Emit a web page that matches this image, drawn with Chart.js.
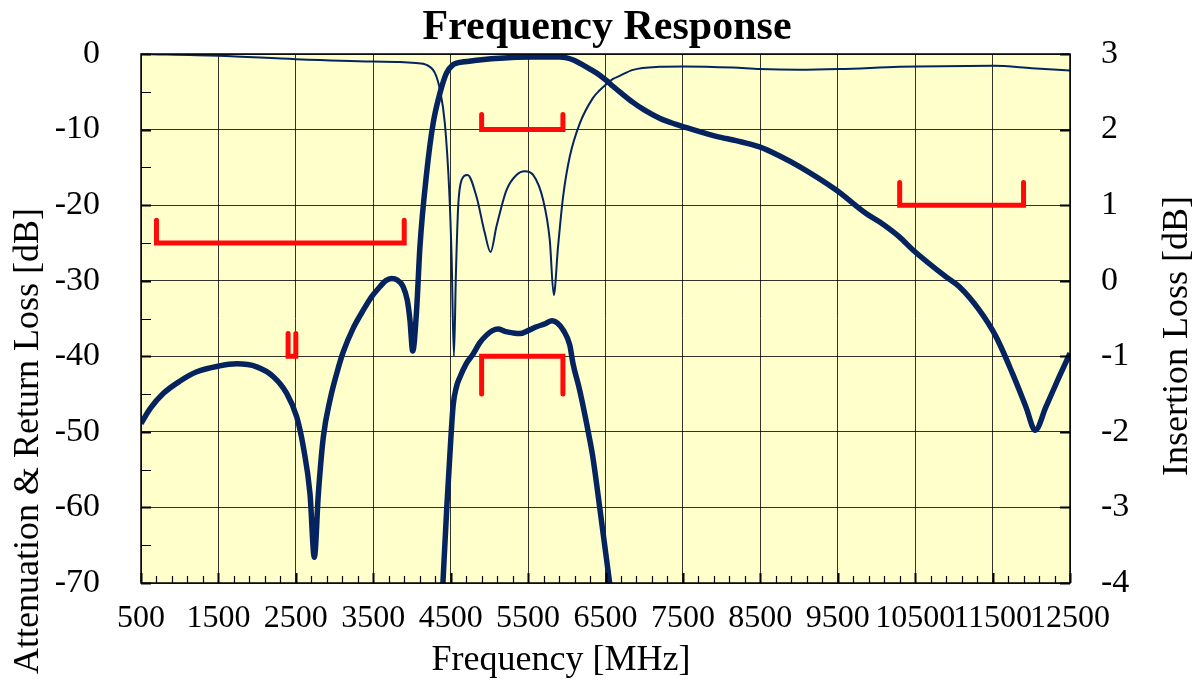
<!DOCTYPE html>
<html>
<head>
<meta charset="utf-8">
<title>Frequency Response</title>
<script src="https://cdn.jsdelivr.net/npm/chart.js@4.4.1/dist/chart.umd.min.js"></script>
<style>
  html, body { margin: 0; padding: 0; background: #ffffff; }
  canvas { display: block; }
</style>
</head>
<body>
<canvas id="freqChart" width="1199" height="681"></canvas>
<script>
/* =====================================
   Data
===================================== */
const chartTitle = "Frequency Response";
const xTitle = "Frequency [MHz]";
const yTitle = "Attenuation & Return Loss [dB]";
const y2Title = "Insertion Loss [dB]";

const xTicks = [500, 1500, 2500, 3500, 4500, 5500, 6500, 7500, 8500, 9500, 10500, 11500, 12500];
const yTicks = [0, -10, -20, -30, -40, -50, -60, -70];
const y2Ticks = [3, 2, 1, 0, -1, -2, -3, -4];

// attenuation (thick curve, left axis)
const attFreq = [500, 620, 790, 1000, 1221, 1500, 1737, 1995, 2210, 2382, 2511, 2597, 2683, 2739, 2791,
  2855, 2941, 3030, 3113, 3240, 3371, 3480, 3586, 3660, 3737, 3810, 3887, 3940, 3974, 4010, 4060, 4103,
  4189, 4274, 4361, 4447, 4532, 4600, 4705, 4900, 5135, 5565, 5909, 6000, 6100, 6200, 6300, 6425, 6511,
  6600, 6683, 6855, 7000, 7199, 7350, 7500, 7931, 8200, 8490, 8750, 9006, 9480, 9866, 10038, 10296, 10468, 10899,
  11071, 11329, 11544, 11758, 11931, 12051, 12189, 12361, 12500];
const attDb = [-48.9, -46.9, -44.9, -43.3, -42.05, -41.3, -41.0, -41.4, -42.7, -44.9, -48.0, -52.0, -58.2, -66.6, -58.2,
  -50.7, -45.8, -42.2, -39.4, -36.3, -33.9, -32.1, -30.8, -30.0, -29.7, -29.9, -30.8, -32.6, -35.2, -39.3, -33.9, -25.5,
  -15.8, -9.15, -5.2, -2.5, -1.4, -1.15, -1.0, -0.75, -0.55, -0.41, -0.4, -0.52, -0.85, -1.4, -2.0, -2.8, -3.5,
  -4.3, -5.0, -6.4, -7.4, -8.5, -9.1, -9.6, -10.9, -11.5, -12.3, -13.5, -14.9, -18.0, -21.1, -22.2, -24.2, -25.9, -29.5,
  -30.8, -33.9, -37.4, -42.3, -46.7, -49.8, -46.7, -42.7, -39.6];

// return loss (thin curve, left axis)
const rlFreq = [500, 1500, 2500, 3500, 3845, 4050, 4189, 4296, 4361, 4425, 4481, 4512, 4542, 4568, 4597,
  4640, 4718, 4834, 4941, 5015, 5092, 5221, 5350, 5457, 5565, 5694, 5780, 5832, 5887, 5952, 6038, 6167,
  6339, 6425, 6511, 6597, 6683, 6855, 7199, 7500, 8145, 8490, 9006, 9523, 10296, 10523, 11510, 12005, 12500];
const rlDb = [0, -0.24, -0.68, -1.0, -1.05, -1.2, -1.45, -2.5, -4.7, -9.2, -18, -26.8, -40, -29, -20.2,
  -16.7, -16.0, -18.9, -23.7, -26.2, -22.8, -18.0, -16.0, -15.5, -16.0, -19.3, -24.6, -31.9, -25.5, -18.9, -13.6, -9.2,
  -5.8, -4.8, -4.0, -3.3, -2.9, -2.1, -1.7, -1.65, -1.8, -2.0, -2.1, -2.0, -1.7, -1.65, -1.56, -1.87, -2.2];

// insertion loss zoom (thick curve, right axis)
const ilFreq = [4395, 4450, 4490, 4532, 4576, 4618, 4700, 4790, 4877, 4963, 5040, 5113, 5200, 5300, 5393,
  5500, 5608, 5720, 5810, 5880, 5952, 6038, 6081, 6167, 6296, 6339, 6425, 6560];
const ilDb = [-4.1, -3.0, -2.3, -1.65, -1.4, -1.28, -1.1, -0.97, -0.82, -0.72, -0.66, -0.64, -0.67, -0.69, -0.70,
  -0.66, -0.61, -0.57, -0.53, -0.56, -0.65, -0.85, -1.1, -1.45, -2.1, -2.35, -3.0, -4.05];

// spec masks [MHz, dB]
const maskLowStop = [[700, -22], [700, -25], [3900, -25], [3900, -22]];
const maskNotch = [[2400, -37], [2400, -40], [2500, -40], [2500, -37]];
const maskReturnLoss = [[4900, -8], [4900, -10], [5950, -10], [5950, -8]];
const maskHighStop = [[10300, -17], [10300, -20], [11900, -20], [11900, -17]];
const maskInsertion = [[4900, -1.5], [4900, -1], [5950, -1], [5950, -1.5]]; // right axis

/* =====================================
   Styles
===================================== */
const NAVY = "#05235e";
const RED = "#ff0a0a";
const SERIF = "'Liberation Serif', 'Times New Roman', serif";

function toPoints(xs, ys) {
  return xs.map((x, i) => ({ x: x, y: ys[i] }));
}

function maskDataset(pairs, axis) {
  return {
    data: pairs.map(p => ({ x: p[0], y: p[1] })),
    yAxisID: axis,
    borderColor: RED,
    borderWidth: 5,
    borderCapStyle: "round",
    borderJoinStyle: "miter",
    pointRadius: 0,
    tension: 0,
    order: 0
  };
}

// fixed axis width; drop the tick padding from the vertical overflow
function fixVertical(width) {
  return s => {
    s.width = width;
    s.paddingTop = 20;
    s.paddingBottom = 20;
  };
}

/* =====================================
   Plot area: background, frame, ticks, titles
===================================== */
const plotFrame = {
  id: "plotFrame",
  beforeDraw(chart) {
    const { ctx, chartArea: a } = chart;
    ctx.save();
    ctx.fillStyle = "#ffffcc";
    ctx.fillRect(a.left, a.top, a.right - a.left, a.bottom - a.top);
    ctx.restore();
  },
  afterDatasetsDraw(chart) {
    const { ctx, chartArea: a } = chart;
    const xs = chart.scales.x;
    const ys = chart.scales.y;
    ctx.save();
    ctx.strokeStyle = "#000";

    // minor ticks along the bottom (every 200 MHz)
    ctx.lineWidth = 1.2;
    ctx.beginPath();
    for (let f = 700; f < 12500; f += 200) {
      if ((f - 500) % 1000 === 0) continue;
      const px = Math.round(xs.getPixelForValue(f)) + 0.5;
      ctx.moveTo(px, a.bottom);
      ctx.lineTo(px, a.bottom - 7);
    }
    ctx.stroke();

    // major ticks along the bottom
    ctx.lineWidth = 2;
    ctx.beginPath();
    xTicks.forEach(f => {
      const px = Math.round(xs.getPixelForValue(f)) + 0.5;
      ctx.moveTo(px, a.bottom);
      ctx.lineTo(px, a.bottom - 10);
    });
    ctx.stroke();

    // left ticks: minor every 5 dB, major every 10 dB
    ctx.lineWidth = 1.2;
    ctx.beginPath();
    for (let v = -5; v > -70; v -= 10) {
      const py = Math.round(ys.getPixelForValue(v)) + 0.5;
      ctx.moveTo(a.left, py);
      ctx.lineTo(a.left + 10, py);
    }
    ctx.stroke();
    ctx.lineWidth = 2;
    ctx.beginPath();
    yTicks.forEach(v => {
      const py = Math.round(ys.getPixelForValue(v)) + 0.5;
      ctx.moveTo(a.left, py);
      ctx.lineTo(a.left + 10, py);
      ctx.moveTo(a.right, py);
      ctx.lineTo(a.right - 10, py);
    });
    ctx.stroke();

    // frame
    ctx.lineWidth = 1.5;
    ctx.strokeRect(a.left, a.top, a.right - a.left, a.bottom - a.top);
    ctx.restore();
  },
  afterDraw(chart) {
    const ctx = chart.ctx;
    ctx.save();
    ctx.fillStyle = "#000";
    ctx.textAlign = "center";
    ctx.textBaseline = "alphabetic";

    ctx.font = "bold 42px " + SERIF;
    ctx.fillText(chartTitle, 607, 38.5);

    ctx.font = "36px " + SERIF;
    ctx.fillText(xTitle, 561, 670);

    ctx.save();
    ctx.translate(38, 441);
    ctx.rotate(-Math.PI / 2);
    ctx.fillText(yTitle, 0, 0);
    ctx.restore();

    ctx.save();
    ctx.translate(1187, 336);
    ctx.rotate(-Math.PI / 2);
    ctx.fillText(y2Title, 0, 0);
    ctx.restore();

    ctx.restore();
  }
};

/* =====================================
   Chart
===================================== */
const ctx = document.getElementById("freqChart").getContext("2d");
const freqChart = new Chart(ctx, {
  type: "line",
  data: {
    datasets: [
      maskDataset(maskLowStop, "y"),
      maskDataset(maskNotch, "y"),
      maskDataset(maskReturnLoss, "y"),
      maskDataset(maskHighStop, "y"),
      maskDataset(maskInsertion, "y2"),
      {
        label: "Attenuation",
        data: toPoints(attFreq, attDb),
        yAxisID: "y",
        borderColor: NAVY,
        borderWidth: 5.5,
        pointRadius: 0,
        cubicInterpolationMode: "monotone",
        order: 1
      },
      {
        label: "Return Loss",
        data: toPoints(rlFreq, rlDb),
        yAxisID: "y",
        borderColor: NAVY,
        borderWidth: 2,
        pointRadius: 0,
        cubicInterpolationMode: "monotone",
        order: 1
      },
      {
        label: "Insertion Loss",
        data: toPoints(ilFreq, ilDb),
        yAxisID: "y2",
        borderColor: NAVY,
        borderWidth: 5.5,
        pointRadius: 0,
        cubicInterpolationMode: "monotone",
        clip: 0,
        order: 1
      }
    ]
  },
  options: {
    responsive: false,
    animation: false,
    layout: { padding: { top: 54, left: 0, right: 0, bottom: 0 } },
    plugins: {
      legend: { display: false },
      tooltip: { enabled: false },
      title: { display: false }
    },
    scales: {
      x: {
        type: "linear",
        min: 500,
        max: 12500,
        afterBuildTicks: s => { s.ticks = xTicks.map(v => ({ value: v })); },
        afterFit: s => { s.height = 98; },
        ticks: {
          autoSkip: false,
          maxRotation: 0,
          minRotation: 0,
          padding: 16,
          color: "#000",
          font: { family: SERIF, size: 32 },
          callback: v => String(v)
        },
        grid: { color: "rgba(0,0,0,0.8)", lineWidth: 1, drawTicks: false },
        border: { display: false }
      },
      y: {
        position: "left",
        min: -70,
        max: 0,
        afterBuildTicks: s => { s.ticks = yTicks.map(v => ({ value: v })); },
        afterFit: fixVertical(141),
        ticks: {
          padding: 41,
          color: "#000",
          font: { family: SERIF, size: 34 },
          callback: v => String(v)
        },
        grid: { color: "rgba(0,0,0,0.8)", lineWidth: 1, drawTicks: false },
        border: { display: false }
      },
      y2: {
        position: "right",
        min: -4,
        max: 3,
        afterBuildTicks: s => { s.ticks = y2Ticks.map(v => ({ value: v })); },
        afterFit: fixVertical(129),
        ticks: {
          padding: 31,
          color: "#000",
          font: { family: SERIF, size: 34 },
          callback: v => String(v)
        },
        grid: { drawOnChartArea: false, drawTicks: false },
        border: { display: false }
      }
    }
  },
  plugins: [plotFrame]
});
</script>
</body>
</html>
